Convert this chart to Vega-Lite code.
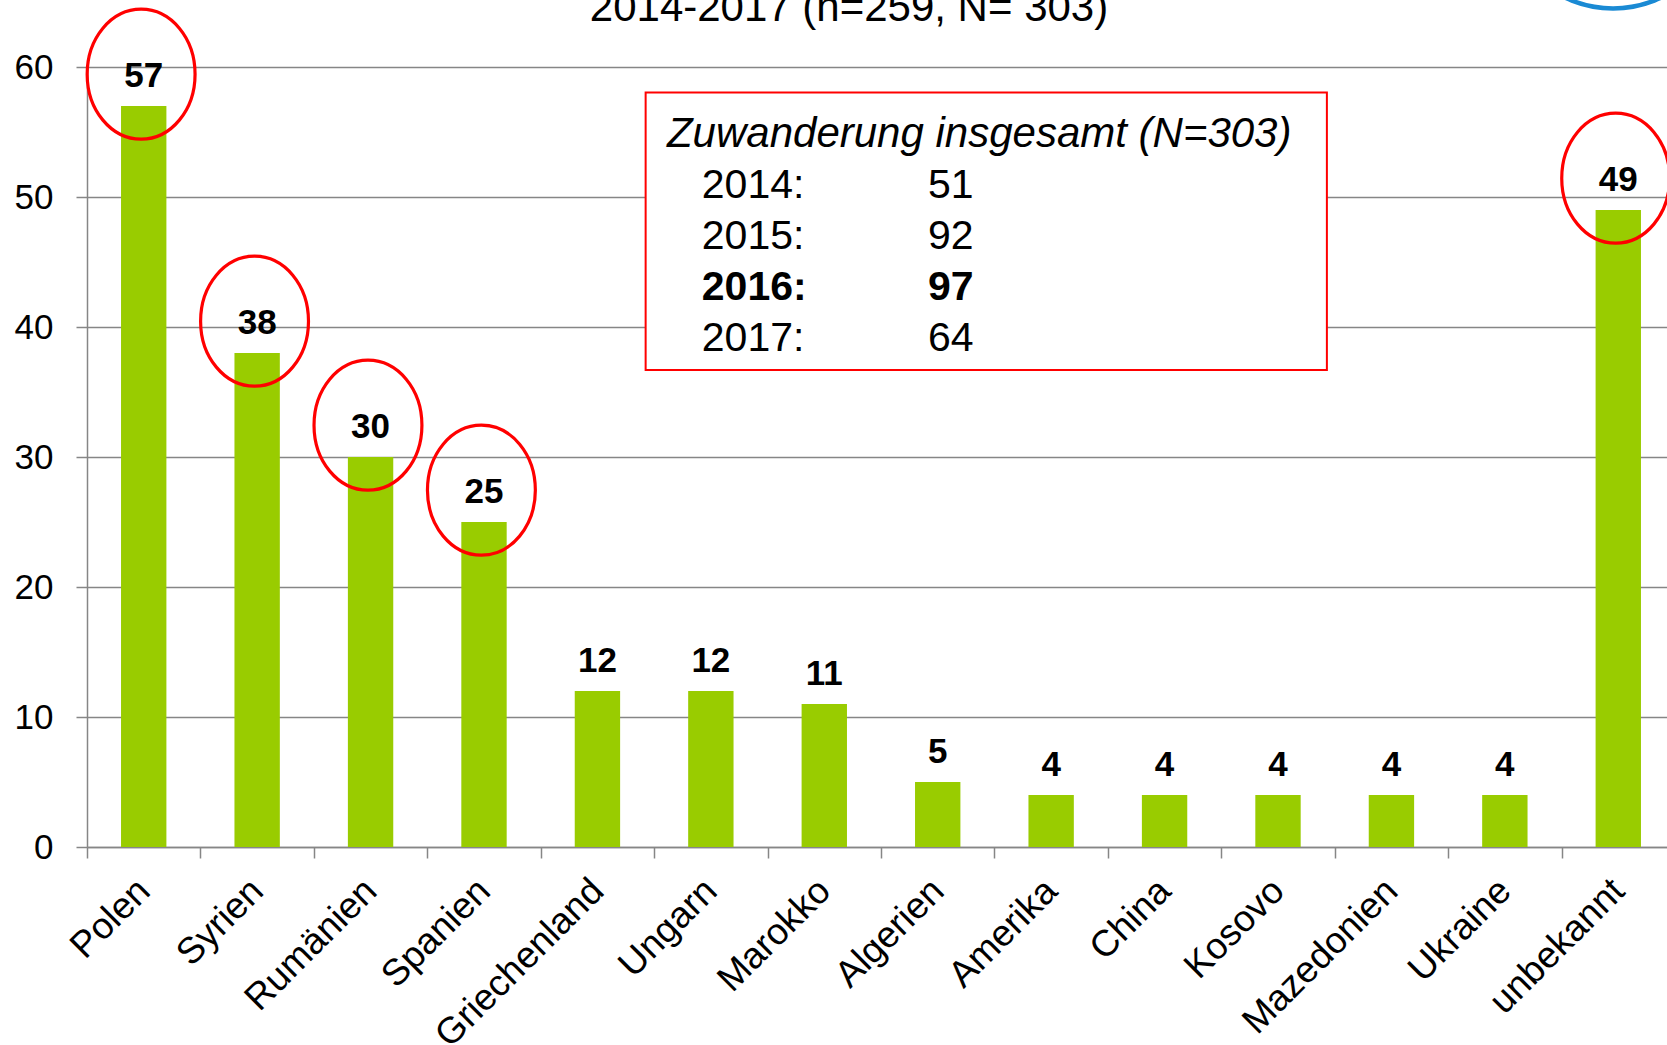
{
  "$schema": "https://vega.github.io/schema/vega-lite/v6.json",
  "autosize": {"type": "none"},
  "padding": {"left": 87, "top": 67, "right": 0, "bottom": 198},
  "width": 1588,
  "height": 780,
  "background": "white",
  "config": {
    "view": {"stroke": null},
    "axis": {
      "labelFont": "Liberation Sans",
      "labelFontSize": 35,
      "labelColor": "black",
      "domainColor": "#868686",
      "domainWidth": 1.5,
      "tickColor": "#868686",
      "tickWidth": 1.5,
      "tickSize": 11,
      "gridColor": "#868686",
      "gridWidth": 1.5,
      "title": null
    }
  },
  "layer": [
    {
      "data": {
        "values": [
          {"Land": "Polen", "Anzahl": 57},
          {"Land": "Syrien", "Anzahl": 38},
          {"Land": "Rumänien", "Anzahl": 30},
          {"Land": "Spanien", "Anzahl": 25},
          {"Land": "Griechenland", "Anzahl": 12},
          {"Land": "Ungarn", "Anzahl": 12},
          {"Land": "Marokko", "Anzahl": 11},
          {"Land": "Algerien", "Anzahl": 5},
          {"Land": "Amerika", "Anzahl": 4},
          {"Land": "China", "Anzahl": 4},
          {"Land": "Kosovo", "Anzahl": 4},
          {"Land": "Mazedonien", "Anzahl": 4},
          {"Land": "Ukraine", "Anzahl": 4},
          {"Land": "unbekannt", "Anzahl": 49}
        ]
      },
      "encoding": {
        "x": {
          "field": "Land",
          "type": "nominal",
          "sort": null,
          "scale": {"paddingInner": 0, "paddingOuter": 0},
          "axis": {
            "labelAngle": -45,
            "labelAlign": "right",
            "labelBaseline": "middle",
            "labelFontSize": 37,
            "labelPadding": 27,
            "labelLimit": 400,
            "labelOverlap": false,
            "tickBand": "extent",
            "grid": false
          }
        },
        "y": {
          "field": "Anzahl",
          "type": "quantitative",
          "scale": {"domain": [0, 60], "nice": false},
          "axis": {
            "values": [0, 10, 20, 30, 40, 50, 60],
            "grid": true,
            "labelPadding": 23
          }
        }
      },
      "layer": [
        {"mark": {"type": "bar", "color": "#99cc00", "width": {"band": 0.4}}},
        {
          "mark": {
            "type": "text",
            "font": "Liberation Sans",
            "fontSize": 35,
            "fontWeight": "bold",
            "color": "black",
            "baseline": "alphabetic",
            "dy": -19
          },
          "encoding": {"text": {"field": "Anzahl", "type": "quantitative"}}
        },
        {
          "transform": [{"filter": "datum.Anzahl >= 25"}],
          "mark": {
            "type": "point",
            "shape": "M0.79,-0.49 C0.79,0.062 0.421,0.51 -0.04,0.51 C-0.501,0.51 -0.87,0.062 -0.87,-0.49 C-0.87,-1.042 -0.501,-1.49 -0.04,-1.49 C0.421,-1.49 0.79,-1.042 0.79,-0.49 Z",
            "size": 16900,
            "filled": false,
            "color": "#ff0000",
            "strokeWidth": 3.2,
            "opacity": 1
          }
        }
      ]
    },
    {
      "data": {
        "values": [
          {"Jahr": 2014, "Zuwanderung": 51},
          {"Jahr": 2015, "Zuwanderung": 92},
          {"Jahr": 2016, "Zuwanderung": 97},
          {"Jahr": 2017, "Zuwanderung": 64}
        ]
      },
      "transform": [{"calculate": "datum.Jahr + ':'", "as": "Jahrtext"}],
      "layer": [
        {
          "data": {"values": [{"Kasten": "Zuwanderung insgesamt"}]},
          "mark": {"type": "rect", "fill": "white", "stroke": "#ff0000", "strokeWidth": 2},
          "encoding": {
            "x": {"datum": 4.925, "type": "quantitative", "scale": {"domain": [0, 14], "nice": false, "zero": false}, "axis": null},
            "x2": {"datum": 10.931},
            "y": {"datum": 2011.931, "type": "quantitative", "scale": {"domain": [2011.431, 2026.725], "nice": false, "zero": false, "reverse": true}, "axis": null},
            "y2": {"datum": 2017.372}
          }
        },
        {
          "data": {"values": [{"Titel": "2014-2017 (n=259, N= 303)"}]},
          "mark": {
            "type": "text",
            "font": "Liberation Sans",
            "fontSize": 42,
            "align": "center",
            "baseline": "alphabetic",
            "color": "black"
          },
          "encoding": {
            "x": {"datum": 6.718, "type": "quantitative", "axis": null},
            "y": {"datum": 2010.53, "type": "quantitative", "axis": null},
            "text": {"field": "Titel", "type": "nominal"}
          }
        },
        {
          "data": {"values": [{"Kasten": "Zuwanderung insgesamt (N=303)"}]},
          "mark": {
            "type": "text",
            "font": "Liberation Sans",
            "fontSize": 42,
            "fontStyle": "italic",
            "align": "left",
            "baseline": "alphabetic",
            "color": "black"
          },
          "encoding": {
            "x": {"datum": 5.113, "type": "quantitative", "axis": null},
            "y": {"datum": 2013.0, "type": "quantitative", "axis": null},
            "text": {"field": "Kasten", "type": "nominal"}
          }
        },
        {
          "transform": [{"filter": "datum.Jahr != 2016"}],
          "mark": {"type": "text", "font": "Liberation Sans", "fontSize": 41, "align": "left", "baseline": "alphabetic", "color": "black"},
          "encoding": {
            "x": {"datum": 5.42, "type": "quantitative", "axis": null},
            "y": {"field": "Jahr", "type": "quantitative", "axis": null},
            "text": {"field": "Jahrtext", "type": "nominal"}
          }
        },
        {
          "transform": [{"filter": "datum.Jahr != 2016"}],
          "mark": {"type": "text", "font": "Liberation Sans", "fontSize": 41, "align": "left", "baseline": "alphabetic", "color": "black"},
          "encoding": {
            "x": {"datum": 7.414, "type": "quantitative", "axis": null},
            "y": {"field": "Jahr", "type": "quantitative", "axis": null},
            "text": {"field": "Zuwanderung", "type": "quantitative"}
          }
        },
        {
          "transform": [{"filter": "datum.Jahr == 2016"}],
          "mark": {"type": "text", "font": "Liberation Sans", "fontSize": 41, "fontWeight": "bold", "align": "left", "baseline": "alphabetic", "color": "black"},
          "encoding": {
            "x": {"datum": 5.42, "type": "quantitative", "axis": null},
            "y": {"field": "Jahr", "type": "quantitative", "axis": null},
            "text": {"field": "Jahrtext", "type": "nominal"}
          }
        },
        {
          "transform": [{"filter": "datum.Jahr == 2016"}],
          "mark": {"type": "text", "font": "Liberation Sans", "fontSize": 41, "fontWeight": "bold", "align": "left", "baseline": "alphabetic", "color": "black"},
          "encoding": {
            "x": {"datum": 7.414, "type": "quantitative", "axis": null},
            "y": {"field": "Jahr", "type": "quantitative", "axis": null},
            "text": {"field": "Zuwanderung", "type": "quantitative"}
          }
        },
        {
          "data": {"values": [{"Logo": "Kreis"}]},
          "mark": {"type": "point", "shape": "circle", "size": 50000, "filled": false, "color": "#1a8ad4", "strokeWidth": 4.5, "opacity": 1},
          "encoding": {
            "x": {"datum": 13.454, "type": "quantitative", "axis": null},
            "y": {"datum": 2008.09, "type": "quantitative", "axis": null}
          }
        }
      ]
    }
  ],
  "resolve": {"scale": {"x": "independent", "y": "independent"}}
}
